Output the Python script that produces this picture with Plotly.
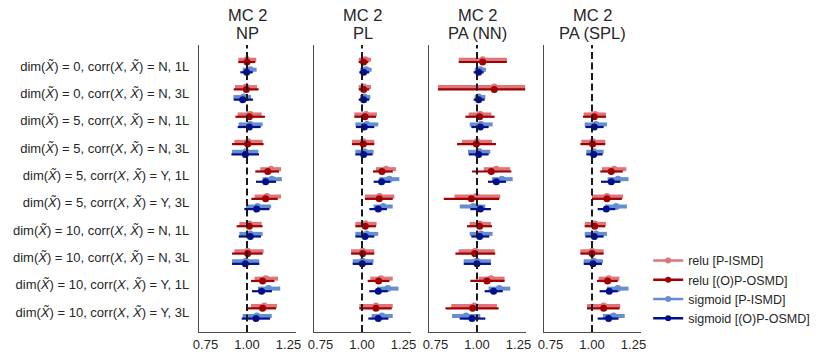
import plotly.graph_objects as go
from plotly.subplots import make_subplots

# row labels (top to bottom)
ROW_LABELS = [
    "dim(<i>X̃</i>) = 0, corr(<i>X</i>, <i>X̃</i>) = N, 1L",
    "dim(<i>X̃</i>) = 0, corr(<i>X</i>, <i>X̃</i>) = N, 3L",
    "dim(<i>X̃</i>) = 5, corr(<i>X</i>, <i>X̃</i>) = N, 1L",
    "dim(<i>X̃</i>) = 5, corr(<i>X</i>, <i>X̃</i>) = N, 3L",
    "dim(<i>X̃</i>) = 5, corr(<i>X</i>, <i>X̃</i>) = Y, 1L",
    "dim(<i>X̃</i>) = 5, corr(<i>X</i>, <i>X̃</i>) = Y, 3L",
    "dim(<i>X̃</i>) = 10, corr(<i>X</i>, <i>X̃</i>) = N, 1L",
    "dim(<i>X̃</i>) = 10, corr(<i>X</i>, <i>X̃</i>) = N, 3L",
    "dim(<i>X̃</i>) = 10, corr(<i>X</i>, <i>X̃</i>) = Y, 1L",
    "dim(<i>X̃</i>) = 10, corr(<i>X</i>, <i>X̃</i>) = Y, 3L",
]
PANEL_TOP = ["MC 2", "MC 2", "MC 2", "MC 2"]
PANEL_SUB = ["NP", "PL", "PA (NN)", "PA (SPL)"]
SERIES_NAMES = ["relu [P-ISMD]", "relu [(O)P-OSMD]", "sigmoid [P-ISMD]", "sigmoid [(O)P-OSMD]"]

# (low, estimate, high) per row
NP_RELU_P = [(0.948, 1.000, 1.056), (0.928, 0.994, 1.060), (0.944, 1.020, 1.088), (0.924, 1.008, 1.094),
             (1.080, 1.145, 1.205), (1.046, 1.120, 1.205), (0.954, 1.014, 1.088), (0.924, 1.004, 1.100),
             (1.046, 1.114, 1.187), (1.024, 1.104, 1.180)]
NP_RELU_O = [(0.948, 1.000, 1.050), (0.920, 0.996, 1.070), (0.930, 1.014, 1.108), (0.910, 1.004, 1.100),
             (1.050, 1.125, 1.193), (1.026, 1.112, 1.185), (0.938, 1.014, 1.094), (0.910, 1.004, 1.094),
             (1.024, 1.094, 1.165), (1.004, 1.094, 1.175)]
NP_SIG_P = [(0.974, 1.020, 1.058), (0.918, 0.980, 1.024), (0.950, 1.020, 1.094), (0.910, 0.994, 1.068),
            (1.094, 1.150, 1.210), (0.994, 1.064, 1.145), (0.954, 1.020, 1.094), (0.910, 0.994, 1.074),
            (1.066, 1.130, 1.200), (0.974, 1.060, 1.149)]
NP_SIG_O = [(0.960, 0.998, 1.034), (0.920, 0.974, 1.036), (0.944, 1.014, 1.082), (0.906, 0.990, 1.072),
            (1.054, 1.112, 1.175), (0.984, 1.058, 1.135), (0.950, 1.020, 1.084), (0.910, 0.990, 1.074),
            (1.030, 1.088, 1.150), (0.968, 1.054, 1.139)]

PL_RELU_P = [(0.980, 1.020, 1.054), (0.980, 1.010, 1.054), (0.954, 1.024, 1.090), (0.940, 1.008, 1.074),
             (1.084, 1.145, 1.205), (1.018, 1.106, 1.195), (0.960, 1.020, 1.088), (0.934, 1.004, 1.074),
             (1.050, 1.114, 1.185), (0.984, 1.084, 1.185)]
PL_RELU_O = [(0.980, 1.010, 1.038), (0.980, 1.010, 1.044), (0.954, 1.018, 1.084), (0.940, 1.008, 1.074),
             (1.066, 1.120, 1.185), (1.018, 1.104, 1.185), (0.960, 1.020, 1.084), (0.934, 1.004, 1.074),
             (1.034, 1.100, 1.165), (0.984, 1.084, 1.179)]
PL_SIG_P = [(0.990, 1.024, 1.058), (0.988, 1.014, 1.050), (0.960, 1.030, 1.098), (0.960, 1.014, 1.070),
            (1.104, 1.165, 1.225), (1.070, 1.128, 1.185), (0.960, 1.028, 1.098), (0.944, 1.004, 1.070),
            (1.090, 1.155, 1.220), (1.058, 1.120, 1.185)]
PL_SIG_O = [(0.984, 1.010, 1.044), (0.980, 1.010, 1.044), (0.964, 1.014, 1.074), (0.960, 1.010, 1.064),
            (1.070, 1.118, 1.170), (1.044, 1.098, 1.150), (0.960, 1.018, 1.074), (0.944, 1.002, 1.064),
            (1.044, 1.098, 1.155), (1.038, 1.098, 1.159)]

PANN_RELU_P = [(0.890, 1.034, 1.180), (0.765, 1.104, 1.290), (0.950, 1.020, 1.086), (0.910, 1.000, 1.090),
               (1.040, 1.116, 1.200), (0.865, 0.996, 1.140), (0.956, 1.016, 1.084), (0.890, 0.990, 1.106),
               (1.010, 1.084, 1.166), (0.845, 0.984, 1.120)]
PANN_RELU_O = [(0.890, 1.034, 1.180), (0.765, 1.104, 1.290), (0.930, 1.016, 1.106), (0.880, 0.996, 1.114),
               (0.970, 1.086, 1.207), (0.800, 0.966, 1.134), (0.940, 1.016, 1.090), (0.870, 0.986, 1.110),
               (0.960, 1.060, 1.166), (0.810, 0.974, 1.130)]
PANN_SIG_P = [(0.986, 1.020, 1.054), (0.986, 1.010, 1.050), (0.956, 1.024, 1.094), (0.946, 1.014, 1.080),
              (1.090, 1.150, 1.215), (0.896, 0.978, 1.050), (0.956, 1.024, 1.094), (0.920, 1.000, 1.084),
              (1.070, 1.134, 1.200), (0.850, 0.934, 1.020)]
PANN_SIG_O = [(0.980, 1.010, 1.040), (0.980, 1.010, 1.046), (0.966, 1.020, 1.070), (0.950, 1.010, 1.070),
              (1.066, 1.116, 1.175), (0.960, 1.020, 1.084), (0.966, 1.016, 1.074), (0.920, 1.000, 1.084),
              (1.046, 1.100, 1.155), (0.896, 0.970, 1.050)]

PASPL_RELU_P = [None, None, (0.950, 1.020, 1.084), (0.936, 1.004, 1.080), (1.060, 1.134, 1.207),
                (1.000, 1.090, 1.187), (0.956, 1.016, 1.084), (0.930, 1.000, 1.070), (1.040, 1.100, 1.165),
                (0.970, 1.070, 1.170)]
PASPL_RELU_O = [None, None, (0.946, 1.014, 1.084), (0.930, 1.004, 1.080), (1.050, 1.116, 1.185),
                (1.000, 1.090, 1.180), (0.956, 1.016, 1.080), (0.930, 1.000, 1.070), (1.030, 1.094, 1.155),
                (0.970, 1.070, 1.166)]
PASPL_SIG_P = [None, None, (0.956, 1.024, 1.090), (0.966, 1.010, 1.070), (1.094, 1.157, 1.220),
               (1.080, 1.145, 1.210), (0.956, 1.024, 1.090), (0.950, 1.010, 1.066), (1.090, 1.155, 1.220),
               (1.066, 1.130, 1.197)]
PASPL_SIG_O = [None, None, (0.960, 1.014, 1.070), (0.966, 1.010, 1.064), (1.054, 1.116, 1.170),
               (1.034, 1.086, 1.140), (0.960, 1.014, 1.070), (0.950, 1.006, 1.060), (1.046, 1.104, 1.155),
               (1.034, 1.100, 1.160)]

PANELS = [
    [NP_RELU_P, NP_RELU_O, NP_SIG_P, NP_SIG_O],
    [PL_RELU_P, PL_RELU_O, PL_SIG_P, PL_SIG_O],
    [PANN_RELU_P, PANN_RELU_O, PANN_SIG_P, PANN_SIG_O],
    [PASPL_RELU_P, PASPL_RELU_O, PASPL_SIG_P, PASPL_SIG_O],
]

# styling per series
COLORS = ["#d8525a", "#a00000", "#4b7bcb", "#000f8c"]
OPAC = [0.8, 1.0, 0.85, 1.0]
THICK = [4, 2.2, 4, 2.2]
OFFSETS = [-0.23, -0.145, 0.135, 0.23]

FONT = "Liberation Sans, Arial, sans-serif"
TXT = "#262626"

fig = make_subplots(rows=1, cols=4, shared_yaxes=False)

for p, panel in enumerate(PANELS):
    for s, series in enumerate(panel):
        xs, ys, plus, minus = [], [], [], []
        for i, v in enumerate(series):
            if v is None:
                continue
            lo, mid, hi = v
            xs.append(mid)
            ys.append(i + OFFSETS[s])
            plus.append(hi - mid)
            minus.append(mid - lo)
        fig.add_trace(go.Scatter(
            x=xs, y=ys, mode="markers",
            marker=dict(color=COLORS[s], size=7),
            error_x=dict(type="data", array=plus, arrayminus=minus, symmetric=False,
                         color=COLORS[s], thickness=THICK[s], width=0),
            opacity=OPAC[s],
            showlegend=False, hoverinfo="skip",
        ), row=1, col=p + 1)

# legend entries
for s, name in enumerate(SERIES_NAMES):
    fig.add_trace(go.Scatter(
        x=[None], y=[None], mode="lines+markers", name=name,
        line=dict(color=COLORS[s], width=2.5), marker=dict(color=COLORS[s], size=6),
        opacity=OPAC[s],
    ), row=1, col=1)

domains = [(199, 296), (314, 411), (429, 526), (544, 641)]
W, H = 831, 363
for p in range(4):
    n = "" if p == 0 else str(p + 1)
    a, b = domains[p]
    fig.layout["xaxis" + n].update(
        domain=[a / W, b / W], range=[0.711, 1.295],
        tickvals=[0.75, 1.0, 1.25], ticktext=["0.75", "1.00", "1.25"],
        showgrid=False, zeroline=False, showline=True, linecolor="#4a4a4a", linewidth=1.3,
        ticks="", ticklabelstandoff=0,
        tickfont=dict(family=FONT, size=13, color=TXT),
    )
    fig.layout["yaxis" + n].update(
        range=[9.72, -0.767], tickvals=list(range(10)), ticktext=ROW_LABELS,
        showticklabels=(p == 0), showgrid=False, zeroline=False,
        showline=True, linecolor="#4a4a4a", linewidth=1.3, ticks="",
        ticklabelstandoff=6, automargin=False,
        tickfont=dict(family=FONT, size=13, color=TXT),
    )
    fig.add_shape(type="line", xref="x" + n, yref="y" + n + " domain",
                  x0=1, x1=1, y0=0, y1=1,
                  line=dict(color="#1a1a1a", width=2, dash="7px,3.5px"), layer="above")
    # two-line panel title
    fig.add_annotation(text=PANEL_TOP[p], xref="x" + n + " domain", yref="paper",
                       x=0.5, y=1, yanchor="middle", yshift=30, showarrow=False,
                       font=dict(family=FONT, size=16.5, color=TXT))
    fig.add_annotation(text=PANEL_SUB[p], xref="x" + n + " domain", yref="paper",
                       x=0.5, y=1, yanchor="middle", yshift=12, showarrow=False,
                       font=dict(family=FONT, size=16.5, color=TXT))

fig.update_layout(
    width=W, height=H,
    margin=dict(l=0, r=0, t=45, b=31, autoexpand=False),
    plot_bgcolor="white", paper_bgcolor="white",
    font=dict(family=FONT, size=13, color=TXT),
    legend=dict(x=0.78, y=0.30, xanchor="left", yanchor="top",
                itemwidth=30, font=dict(family=FONT, size=12.5, color=TXT),
                bgcolor="rgba(0,0,0,0)"),
)

fig.write_html("out.html", config={"displayModeBar": False},
               post_script="document.body.style.margin='0';")
